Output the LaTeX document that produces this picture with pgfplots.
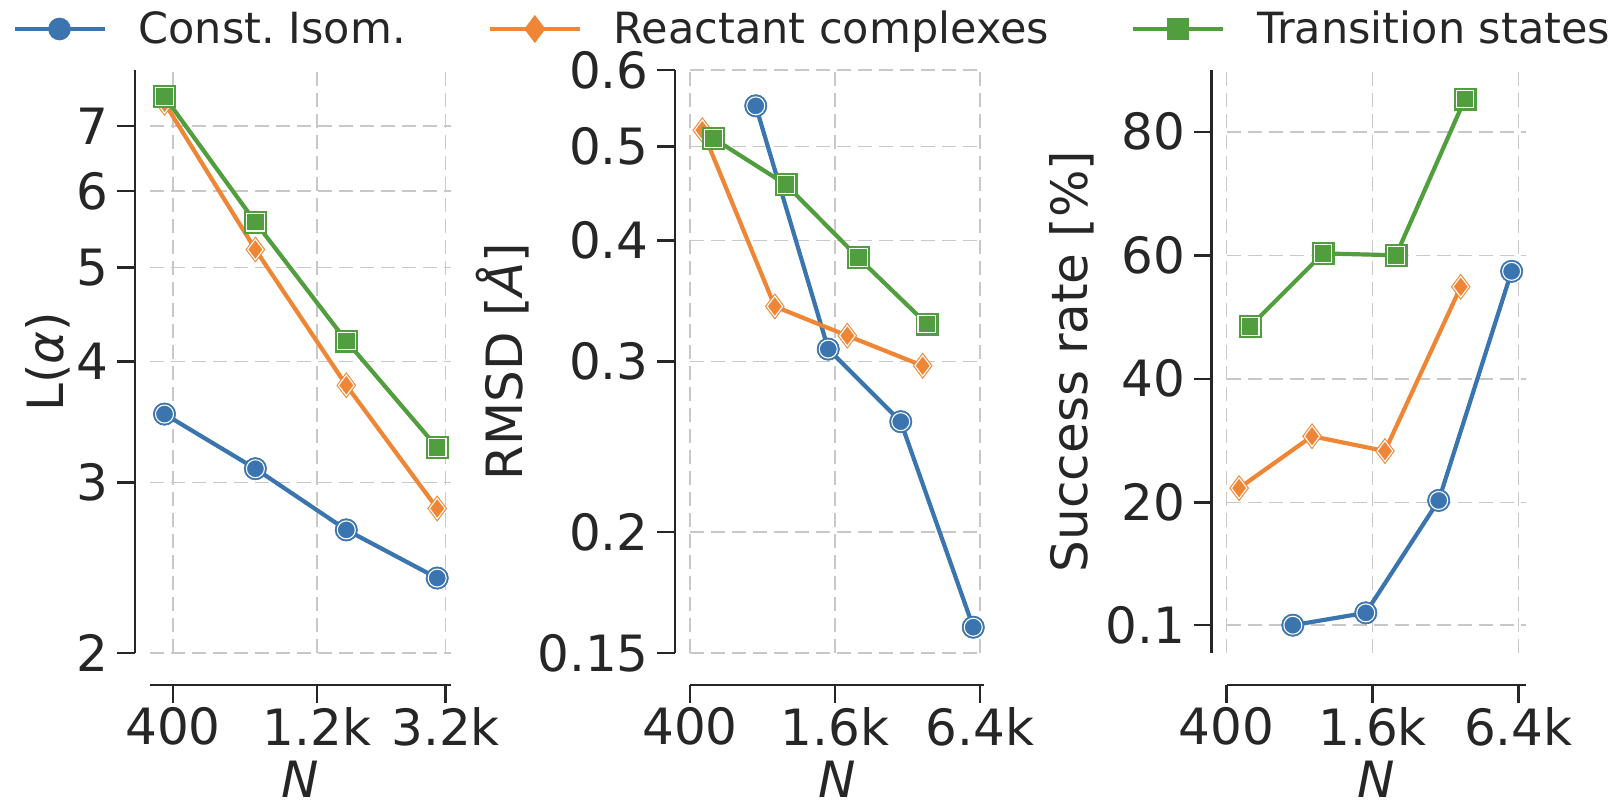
\documentclass[border=0pt]{standalone}
\usepackage{pgfplots}
\pgfplotsset{compat=1.18}
\usepackage{pgfplotstable}
\usepackage{fontspec}
\setmainfont{DejaVu Sans}
\frenchspacing
\definecolor{cB}{HTML}{3B75AF}
\definecolor{cO}{HTML}{EF8636}
\definecolor{cG}{HTML}{519E3E}
\definecolor{txt}{HTML}{262626}
\definecolor{gridc}{HTML}{C8C8C8}

\pgfplotstableread{
xb yb xo yo xg yg
375 3.53 375 7.40 375 7.51
750 3.10 750 5.22 750 5.57
1500 2.68 1500 3.78 1500 4.20
3000 2.39 3000 2.82 3000 3.26
}\tabA
\pgfplotstableread{
xb yb xo yo xg yg
750 0.551 450 0.520 500 0.510
1500 0.309 900 0.342 1000 0.457
3000 0.260 1800 0.319 2000 0.384
6000 0.1595 3700 0.297 3850 0.328
}\tabB
\pgfplotstableread{
xb yb xo yo xg yg
750 0.1 450 22.3 500 48.5
1500 2.1 900 30.7 1000 60.3
3000 20.3 1800 28.3 2000 60.0
6000 57.4 3700 54.9 3850 85.3
}\tabC

\newcommand{\series}[7]{%
  \addplot[#4, line width=2.1pt, mark=#5, mark size=#6, mark options={solid, fill=#4, draw=#4, line width=0.3pt}, forget plot] table[x=#2,y=#3]{#1};
  \addplot[only marks, mark=#5, mark size=#7, mark options={solid, fill=#4, draw=white, line width=0.55pt}, forget plot] table[x=#2,y=#3]{#1};
}
\newcommand{\allseries}[1]{%
  \series{#1}{xb}{yb}{cB}{*}{5.6pt}{4.5pt}
  \series{#1}{xo}{yo}{cO}{diamond*}{6.3pt}{5.2pt}
  \series{#1}{xg}{yg}{cG}{square*}{5.5pt}{4.4pt}
}

\pgfplotsset{
  myaxis/.style={
    scale only axis,
    height=291.5pt,
    axis lines=left,
    axis line style={-, line width=1.35pt, color=txt},
    axis x line shift=16pt,
    axis y line shift=7.5pt,
    tick align=outside,
    major tick length=9pt,
    minor tick length=0pt,
    tick style={line width=1.25pt, color=txt},
    grid=major,
    grid style={dash pattern=on 7pt off 3.5pt, line width=0.75pt, color=gridc},
    clip=false,
    tick label style={font=\fontsize{25}{30}\selectfont, text=txt},
    xticklabel style={inner sep=2pt},
    yticklabel style={inner xsep=4pt},
    label style={font=\fontsize{25}{30}\selectfont, text=txt},
    xlabel={\textit{N}},
    xlabel style={at={(axis description cs:0.5,-0.2162)}, anchor=center, inner sep=0pt},
  },
}

\begin{document}
\begin{tikzpicture}
\useasboundingbox (0pt,0pt) rectangle (812pt,401.5pt);

\begin{axis}[xmode=log, ymode=log, myaxis, at={(75pt,75pt)}, anchor=south west, width=150.5pt,
  xmin=335.7, xmax=3333, ymin=2, ymax=8,
  xtick={400,1200,3200}, xticklabels={400,1.2k,3.2k},
  ytick={2,3,4,5,6,7}, yticklabels={2,3,4,5,6,7},
  ylabel={L(\textit{α})},
  ylabel style={at={(axis description cs:-0.339,0.5)}, anchor=center},
  legend image code/.code={\draw[mark repeat=2, mark phase=2, #1] plot coordinates {(0pt,0pt) (22.5pt,0pt) (45pt,0pt)};},
  legend style={at={(axis description cs:-0.4585,1.0703)}, anchor=west, draw=none, fill=none, inner sep=0pt,
    font=\fontsize{21.5}{26}\selectfont, text=txt, legend cell align=left,
    /tikz/every even column/.append style={column sep=39pt},
    /tikz/every odd column/.append style={column sep=14pt}},
  legend columns=3,
]
\addlegendimage{cB, line width=2.1pt, mark=*, mark size=4.6pt, mark options={solid, fill=cB, draw=cB}}
\addlegendentry{Const. Isom.}
\addlegendimage{cO, line width=2.1pt, mark=diamond*, mark size=5.3pt, mark options={solid, fill=cO, draw=cO}}
\addlegendentry{Reactant complexes}
\addlegendimage{cG, line width=2.1pt, mark=square*, mark size=4.5pt, mark options={solid, fill=cG, draw=cG}}
\addlegendentry{Transition states}
\allseries{\tabA}
\end{axis}

\begin{axis}[xmode=log, ymode=log, myaxis, at={(345pt,75pt)}, anchor=south west, width=147pt,
  xmin=400, xmax=6650, ymin=0.15, ymax=0.6,
  xtick={400,1600,6400}, xticklabels={400,1.6k,6.4k},
  ytick={0.15,0.2,0.3,0.4,0.5,0.6}, yticklabels={0.15,0.2,0.3,0.4,0.5,0.6},
  ylabel={RMSD [\textit{Å}]},
  ylabel style={at={(axis description cs:-0.639,0.5)}, anchor=center},
]
\allseries{\tabB}
\end{axis}

\begin{axis}[xmode=log, myaxis, at={(613.35pt,75pt)}, anchor=south west, width=149.65pt,
  xmin=400, xmax=6880, ymin=-4.4, ymax=90,
  xtick={400,1600,6400}, xticklabels={400,1.6k,6.4k},
  ytick={0.1,20,40,60,80}, yticklabels={0.1,20,40,60,80},
  ylabel={Success rate [\%]},
  ylabel style={at={(axis description cs:-0.517,0.5)}, anchor=center},
]
\allseries{\tabC}
\end{axis}
\end{tikzpicture}
\end{document}
